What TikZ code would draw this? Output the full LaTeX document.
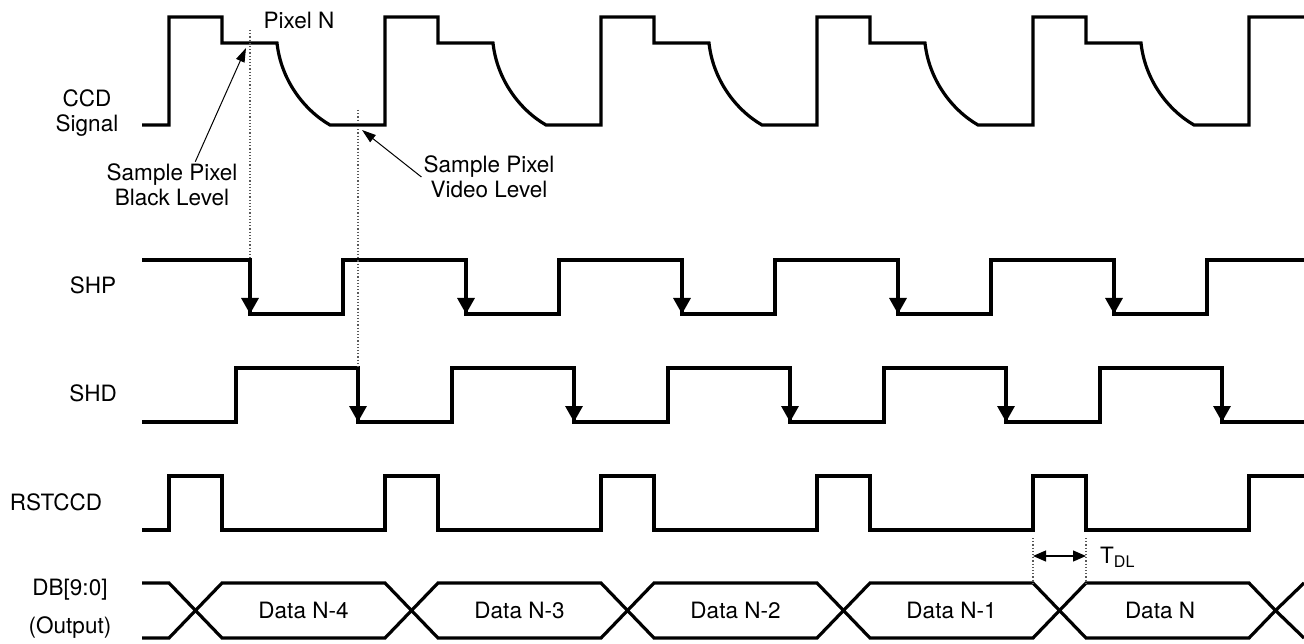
\documentclass[tikz,border=0pt]{standalone}
\usepackage{fontspec}
\setmainfont{TeX Gyre Heros}
\usepackage{tikz}
\usetikzlibrary{arrows.meta}

\begin{document}
\begin{tikzpicture}
  [
    x=1pt, y=-1pt,
    wave/.style={draw=black, line width=3.2pt, line join=miter},
    fall/.style={line width=3.2pt, -{Triangle[length=16pt,width=17pt]}},
    guide/.style={draw=black!65, line width=1.2pt, dash pattern=on 1.2pt off 2pt},
    note/.style={draw=black, line width=1pt, -{Triangle[length=14pt,width=9pt]}},
    lbl/.style={font=\fontsize{22.5}{25}\selectfont, align=center, inner sep=2pt}
  ]
  \useasboundingbox (0,0) rectangle (1304,644);

  % signal names
  \node (lblCCD) at (87,113) [lbl] {CCD\\Signal};
  \node (lblSHP) at (93,285) [lbl] {SHP};
  \node (lblSHD) at (93,393) [lbl] {SHD};
  \node (lblRST) at (56,502) [lbl] {RSTCCD};
  \node (lblDB)  at (70,590) [lbl] {DB[9:0]};
  \node (lblOut) at (70,628) [lbl] {(Output)};

  % CCD signal
  \draw [wave] (142,125) -- (169,125) -- (169,17) -- (222,17) -- (222,43) -- (277,43)
    .. controls (281,80) and (304,110) .. (330,125) -- (385,125)
    -- (385,17) -- (438,17) -- (438,43) -- (493,43)
    .. controls (497,80) and (520,110) .. (546,125) -- (601,125)
    -- (601,17) -- (654,17) -- (654,43) -- (709,43)
    .. controls (713,80) and (736,110) .. (762,125) -- (817,125)
    -- (817,17) -- (870,17) -- (870,43) -- (925,43)
    .. controls (929,80) and (952,110) .. (978,125) -- (1033,125)
    -- (1033,17) -- (1086,17) -- (1086,43) -- (1141,43)
    .. controls (1145,80) and (1168,110) .. (1194,125) -- (1249,125)
    -- (1249,17) -- (1304,17);

  % SHP
  \draw [wave] (142,260) -- (250,260) -- (250,314) -- (343,314) -- (343,260)
    -- (466,260) -- (466,314) -- (559,314) -- (559,260)
    -- (682,260) -- (682,314) -- (775,314) -- (775,260)
    -- (898,260) -- (898,314) -- (991,314) -- (991,260)
    -- (1114,260) -- (1114,314) -- (1207,314) -- (1207,260) -- (1304,260);
  \draw [fall] (250,260) -- (250,314);
  \draw [fall] (466,260) -- (466,314);
  \draw [fall] (682,260) -- (682,314);
  \draw [fall] (898,260) -- (898,314);
  \draw [fall] (1114,260) -- (1114,314);

  % SHD
  \draw [wave] (142,422) -- (236,422) -- (236,368) -- (358,368) -- (358,422)
    -- (452,422) -- (452,368) -- (574,368) -- (574,422)
    -- (668,422) -- (668,368) -- (790,368) -- (790,422)
    -- (884,422) -- (884,368) -- (1006,368) -- (1006,422)
    -- (1100,422) -- (1100,368) -- (1222,368) -- (1222,422) -- (1304,422);
  \draw [fall] (358,368) -- (358,422);
  \draw [fall] (574,368) -- (574,422);
  \draw [fall] (790,368) -- (790,422);
  \draw [fall] (1006,368) -- (1006,422);
  \draw [fall] (1222,368) -- (1222,422);

  % RSTCCD
  \draw [wave] (142,530) -- (169,530) -- (169,476) -- (222,476) -- (222,530)
    -- (385,530) -- (385,476) -- (438,476) -- (438,530)
    -- (601,530) -- (601,476) -- (654,476) -- (654,530)
    -- (817,530) -- (817,476) -- (870,476) -- (870,530)
    -- (1033,530) -- (1033,476) -- (1086,476) -- (1086,530)
    -- (1249,530) -- (1249,476) -- (1304,476);

  % DB[9:0] bus
  \draw [wave] (142,583) -- (169,583) -- (195.5,610.5) -- (169,638) -- (142,638);
  \draw [wave] (195.5,610.5) -- (222,583) -- (385,583) -- (411.5,610.5) -- (385,638) -- (222,638) -- cycle;
  \draw [wave] (411.5,610.5) -- (438,583) -- (601,583) -- (627.5,610.5) -- (601,638) -- (438,638) -- cycle;
  \draw [wave] (627.5,610.5) -- (654,583) -- (817,583) -- (843.5,610.5) -- (817,638) -- (654,638) -- cycle;
  \draw [wave] (843.5,610.5) -- (870,583) -- (1033,583) -- (1059.5,610.5) -- (1033,638) -- (870,638) -- cycle;
  \draw [wave] (1059.5,610.5) -- (1086,583) -- (1249,583) -- (1275.5,610.5) -- (1249,638) -- (1086,638) -- cycle;
  \draw [wave] (1304,583) -- (1275.5,610.5) -- (1304,638);

  \node (d4) at (303.5,610.5) [lbl] {Data N-4};
  \node (d3) at (519.5,610.5) [lbl] {Data N-3};
  \node (d2) at (735.5,610.5) [lbl] {Data N-2};
  \node (d1) at (951.5,610.5) [lbl] {Data N-1};
  \node (d0) at (1160,610.5)  [lbl] {Data N};

  % sampling marks
  \draw [guide] (250,30) -- (250,260);
  \draw [guide] (358,110) -- (358,368);
  \node (lblPixel) at (299,20) [lbl] {Pixel N};
  \node (lblBlack) at (172,185) [lbl] {Sample Pixel\\Black Level};
  \node (lblVideo) at (489,177) [lbl] {Sample Pixel\\Video Level};
  \coordinate (blackPt) at (246,48);
  \coordinate (videoPt) at (362,130);
  \draw [note] (lblBlack.45) -- (blackPt);
  \draw [note] (lblVideo.west) -- (videoPt);

  % output delay
  \draw [guide] (1033,538) -- (1033,583);
  \draw [guide] (1086,538) -- (1086,583);
  \coordinate (tdlL) at (1033,556);
  \coordinate (tdlR) at (1086,556);
  \draw [{Triangle[length=13pt,width=11pt]}-{Triangle[length=13pt,width=11pt]}, line width=1.2pt]
    (tdlL) -- (tdlR);
  \node (lblTDL) at (1098,557) [lbl, anchor=west]
    {T\raisebox{-0.35ex}{\fontsize{16}{16}\selectfont DL}};
\end{tikzpicture}
\end{document}
